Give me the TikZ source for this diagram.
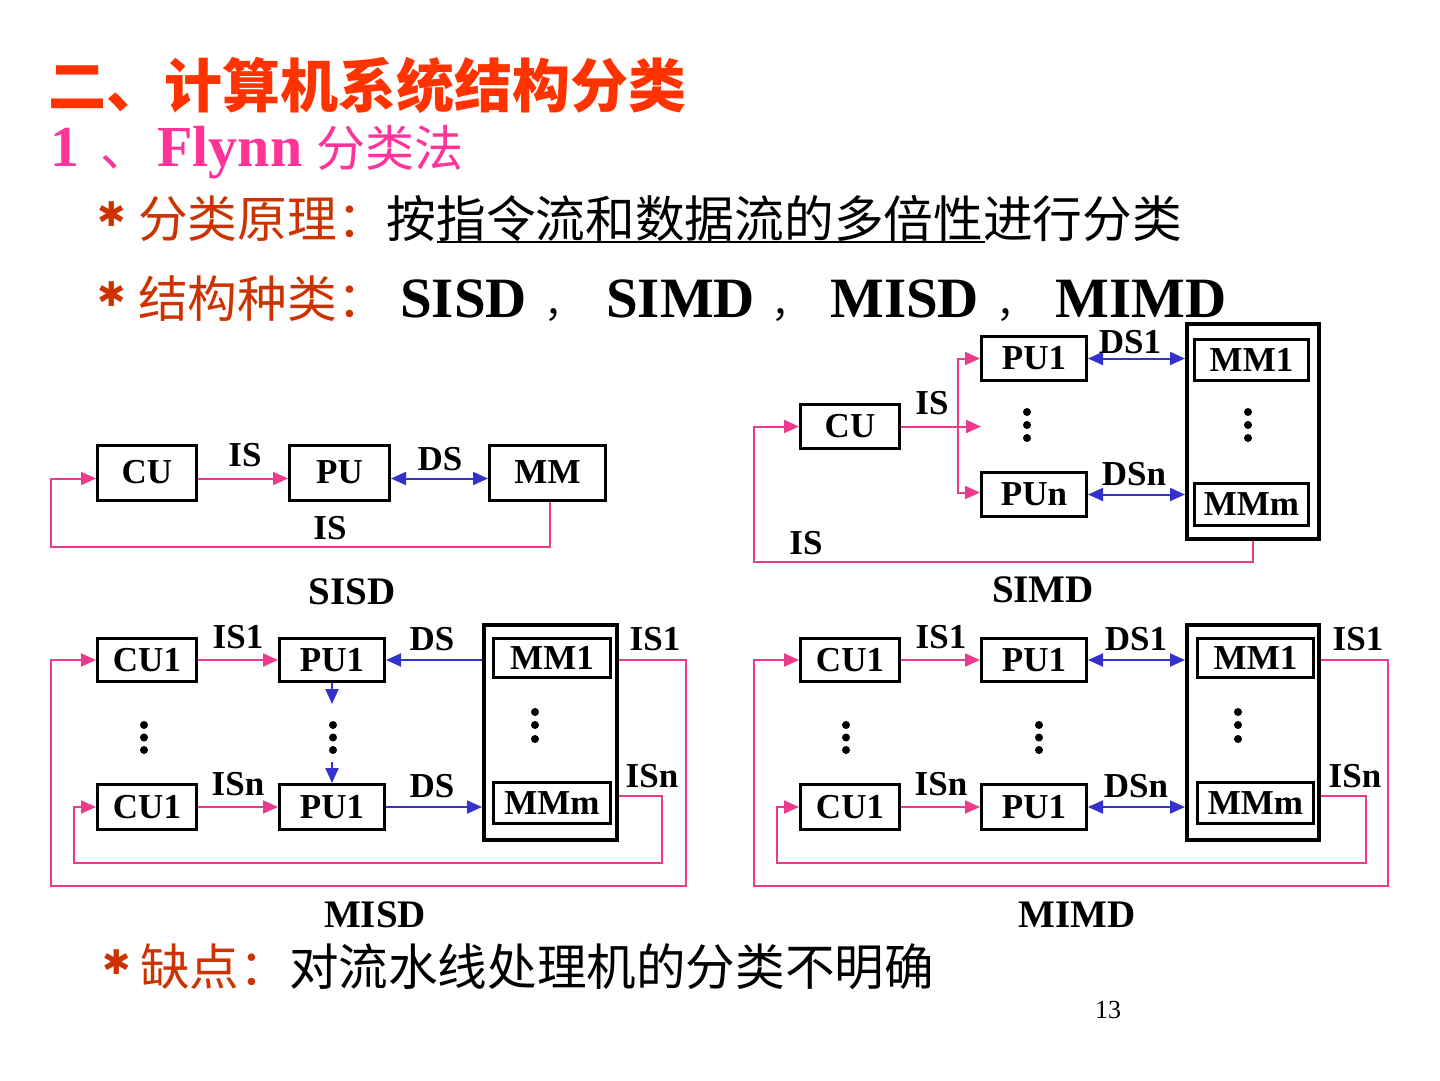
\documentclass[tikz,border=0pt]{standalone}
\usepackage{fontspec}
\setmainfont{Liberation Serif}
\newfontfamily\cjk{Noto Sans CJK SC}
\newfontfamily\dvs{DejaVu Sans}
\usetikzlibrary{arrows.meta}
\definecolor{titlered}{RGB}{255,51,0}
\definecolor{flpink}{RGB}{255,51,153}
\definecolor{lblorange}{RGB}{204,51,0}
\definecolor{lnpink}{RGB}{236,58,140}
\definecolor{lnblue}{RGB}{51,51,204}
\newcommand{\diagfont}{\bfseries\fontsize{35}{40}\selectfont}
\newcommand{\capfont}{\bfseries\fontsize{39}{42}\selectfont}
\begin{document}
\begin{tikzpicture}[x=1pt,y=-1pt,
  box/.style={draw=black,line width=3pt,inner sep=0pt,font=\diagfont},
  outerbox/.style={draw=black,line width=4pt,inner sep=0pt},
  lbl/.style={inner sep=0pt,font=\diagfont},
  caplbl/.style={inner sep=0pt,font=\capfont},
  txt/.style={anchor=base west,inner sep=0pt},
  astx/.style={inner sep=0pt,text=lblorange,font=\dvs\fontsize{34}{34}\selectfont},
  tip/.tip={Triangle[length=15pt,width=13pt]},
  pkline/.style={draw=lnpink,line width=2pt},
  pkarr/.style={draw=lnpink,line width=2pt,-tip},
  blarr/.style={draw=lnblue,line width=2pt,-tip},
  bldbl/.style={draw=lnblue,line width=2pt,tip-tip},
  dotf/.style={fill=black}]
\fill[white] (0,0) rectangle (1440,1080);
\useasboundingbox (0,0) rectangle (1440,1080);

% ---------- headings ----------
\node[txt,text=titlered,font=\cjk\bfseries\fontsize{58}{60}\selectfont] (title) at (48,107) {二、计算机系统结构分类};
\node[txt,text=flpink,font=\bfseries\fontsize{58}{60}\selectfont] (n1) at (50,166) {1};
\node[txt,text=flpink,font=\cjk\fontsize{49}{50}\selectfont] (ndun) at (100,166) {、};
\node[txt,text=flpink,font=\bfseries\fontsize{58}{60}\selectfont] (flynn) at (157,166) {Flynn};
\node[txt,text=flpink,font=\cjk\fontsize{49}{50}\selectfont] (flc) at (316,166) {分类法};

\node[astx] (ast1) at (112,214) {✱};
\node[txt,font=\cjk\fontsize{49.7}{50}\selectfont] (p1) at (138,237) {\textcolor{lblorange}{分类原理：}按指令流和数据流的多倍性进行分类};
\draw[line width=2pt] (437,242) -- (985,242);

\node[astx] (ast2) at (112,294) {✱};
\node[txt,text=lblorange,font=\cjk\fontsize{49.7}{50}\selectfont] (p2) at (138,317) {结构种类：};
\node[txt,font=\bfseries\fontsize{57}{60}\selectfont] (k1) at (400,317) {SISD};
\node[txt,font=\cjk\fontsize{38}{40}\selectfont] (c1) at (544,317) {，};
\node[txt,font=\bfseries\fontsize{57}{60}\selectfont] (k2) at (606,317) {SIMD};
\node[txt,font=\cjk\fontsize{38}{40}\selectfont] (c2) at (771,317) {，};
\node[txt,font=\bfseries\fontsize{57}{60}\selectfont] (k3) at (830,317) {MISD};
\node[txt,font=\cjk\fontsize{38}{40}\selectfont] (c3) at (996,317) {，};
\node[txt,font=\bfseries\fontsize{57}{60}\selectfont] (k4) at (1055,317) {MIMD};

\node[astx] (ast3) at (117,962) {✱};
\node[txt,font=\cjk\fontsize{49.6}{50}\selectfont] (p3) at (140,985) {\textcolor{lblorange}{缺点：}对流水线处理机的分类不明确};
\node[inner sep=0pt,font=\fontsize{26}{28}\selectfont] (pg) at (1108,1010) {13};

% ---------- SISD ----------
\node[box,minimum width=99pt,minimum height=55pt] (s_cu) at (147,472.5) {CU};
\node[box,minimum width=100pt,minimum height=55pt] (s_pu) at (339.5,472.5) {PU};
\node[box,minimum width=116pt,minimum height=55pt] (s_mm) at (547.5,472.5) {MM};
\draw[pkarr] ([yshift=-6pt]s_cu.east) -- ([yshift=-6pt]s_pu.west);
\draw[bldbl] ([yshift=-6pt]s_pu.east) -- ([yshift=-6pt]s_mm.west);
\coordinate (s_fb) at (51,547);
\draw[pkarr] ([xshift=2pt]s_mm.south) |- (s_fb) |- ([yshift=-6pt]s_cu.west);
\node[lbl] (s_l1) at (245,455) {IS};
\node[lbl] (s_l2) at (440,459) {DS};
\node[lbl] (s_l3) at (330,528) {IS};
\node[caplbl] (s_cap) at (352,592) {SISD};

% ---------- SIMD ----------
\node[box,minimum width=99pt,minimum height=44pt] (i_cu) at (850,426.5) {CU};
\node[box,minimum width=105pt,minimum height=44pt] (i_pu1) at (1034,358.5) {PU1};
\node[box,minimum width=105pt,minimum height=44pt] (i_pun) at (1034,494.5) {PUn};
\node[outerbox,minimum width=132pt,minimum height=215pt] (i_outer) at (1253,431.5) {};
\node[box,minimum width=114pt,minimum height=41pt] (i_mm1) at (1251.5,360) {MM1};
\node[box,minimum width=114pt,minimum height=42pt] (i_mmm) at (1251.5,504.5) {MMm};
\coordinate (i_br) at (958,426.5);
\coordinate (i_mid) at (981,426.5);
\draw[pkline] (i_cu.east) -- (i_br);
\draw[pkarr] (i_br) -- (i_mid);
\draw[pkarr] (i_br) |- (i_pu1.west);
\draw[pkarr] (i_br) |- ([yshift=2pt]i_pun.west);
\draw[bldbl] (i_pu1.east) -- (i_outer.west |- i_pu1.east);
\draw[bldbl] (i_pun.east) -- (i_outer.west |- i_pun.east);
\coordinate (i_fb) at (754,562);
\draw[pkarr] (i_outer.south) |- (i_fb) |- (i_cu.west);
\foreach \yy in {412,425,438} {\fill[dotf] (1027,\yy) circle (4pt); \fill[dotf] (1248,\yy) circle (4pt);}
\node[lbl] (i_l1) at (932,403) {IS};
\node[lbl] (i_l2) at (1130,342) {DS1};
\node[lbl] (i_l3) at (1134,474) {DSn};
\node[lbl] (i_l4) at (806,543) {IS};
\node[caplbl] (i_cap) at (1043,590) {SIMD};

% ---------- MISD ----------
\node[box,minimum width=99pt,minimum height=43pt] (m_cu1) at (147,660) {CU1};
\node[box,minimum width=105pt,minimum height=43pt] (m_pu1) at (332,660) {PU1};
\node[box,minimum width=99pt,minimum height=45pt] (m_cu2) at (147,807) {CU1};
\node[box,minimum width=105pt,minimum height=45pt] (m_pu2) at (332,807) {PU1};
\node[outerbox,minimum width=133pt,minimum height=215pt] (m_outer) at (550.5,732.5) {};
\node[box,minimum width=117pt,minimum height=39pt] (m_mm1) at (552,658) {MM1};
\node[box,minimum width=117pt,minimum height=41pt] (m_mmm) at (552,803) {MMm};
\draw[pkarr] (m_cu1.east) -- (m_pu1.west);
\draw[blarr] (m_outer.west |- m_pu1.east) -- (m_pu1.east);
\coordinate (m_va) at (332,704);
\coordinate (m_vb) at (332,762);
\draw[blarr] (m_pu1.south) -- (m_va);
\draw[blarr] (m_vb) -- (m_pu2.north);
\draw[pkarr] (m_cu2.east) -- (m_pu2.west);
\draw[blarr] (m_pu2.east) -- (m_outer.west |- m_pu2.east);
\coordinate (m_r1) at (686,886);
\coordinate (m_l1) at (51,886);
\draw[pkarr] (m_outer.east |- m_cu1.east) -| (m_r1) -- (m_l1) |- (m_cu1.west);
\coordinate (m_y2) at (0,796);
\coordinate (m_r2) at (662,863);
\coordinate (m_l2) at (74,863);
\draw[pkarr] (m_outer.east |- m_y2) -| (m_r2) -- (m_l2) |- (m_cu2.west);
\foreach \yy in {725,737.5,750} {\fill[dotf] (144,\yy) circle (4pt); \fill[dotf] (333,\yy) circle (4pt);}
\foreach \yy in {712,725,739} {\fill[dotf] (535,\yy) circle (4pt);}
\node[lbl] (m_l1t) at (238,637) {IS1};
\node[lbl] (m_l2t) at (432,639) {DS};
\node[lbl] (m_l3t) at (655,639) {IS1};
\node[lbl] (m_l1b) at (238,784) {ISn};
\node[lbl] (m_l2b) at (432,786) {DS};
\node[lbl] (m_l3b) at (652,776) {ISn};
\node[caplbl] (m_cap) at (375,915) {MISD};

% ---------- MIMD ----------
\node[box,minimum width=99pt,minimum height=43pt] (c_cu1) at (850,660) {CU1};
\node[box,minimum width=105pt,minimum height=43pt] (c_pu1) at (1034,660) {PU1};
\node[box,minimum width=99pt,minimum height=45pt] (c_cu2) at (850,807) {CU1};
\node[box,minimum width=105pt,minimum height=45pt] (c_pu2) at (1034,807) {PU1};
\node[outerbox,minimum width=132pt,minimum height=215pt] (c_outer) at (1253,732.5) {};
\node[box,minimum width=116pt,minimum height=39pt] (c_mm1) at (1255.5,658) {MM1};
\node[box,minimum width=116pt,minimum height=41pt] (c_mmm) at (1255.5,803) {MMm};
\draw[pkarr] (c_cu1.east) -- (c_pu1.west);
\draw[bldbl] (c_pu1.east) -- (c_outer.west |- c_pu1.east);
\draw[pkarr] (c_cu2.east) -- (c_pu2.west);
\draw[bldbl] (c_pu2.east) -- (c_outer.west |- c_pu2.east);
\coordinate (c_r1) at (1388,886);
\coordinate (c_l1) at (754,886);
\draw[pkarr] (c_outer.east |- c_cu1.east) -| (c_r1) -- (c_l1) |- (c_cu1.west);
\coordinate (c_y2) at (0,796);
\coordinate (c_r2) at (1366,863);
\coordinate (c_l2) at (777,863);
\draw[pkarr] (c_outer.east |- c_y2) -| (c_r2) -- (c_l2) |- (c_cu2.west);
\foreach \yy in {725,737.5,750} {\fill[dotf] (846,\yy) circle (4pt); \fill[dotf] (1039,\yy) circle (4pt);}
\foreach \yy in {712,725,739} {\fill[dotf] (1238,\yy) circle (4pt);}
\node[lbl] (c_l1t) at (941,637) {IS1};
\node[lbl] (c_l2t) at (1136,639) {DS1};
\node[lbl] (c_l3t) at (1358,639) {IS1};
\node[lbl] (c_l1b) at (941,784) {ISn};
\node[lbl] (c_l2b) at (1136,786) {DSn};
\node[lbl] (c_l3b) at (1355,776) {ISn};
\node[caplbl] (c_cap) at (1077,915) {MIMD};
\end{tikzpicture}
\end{document}
